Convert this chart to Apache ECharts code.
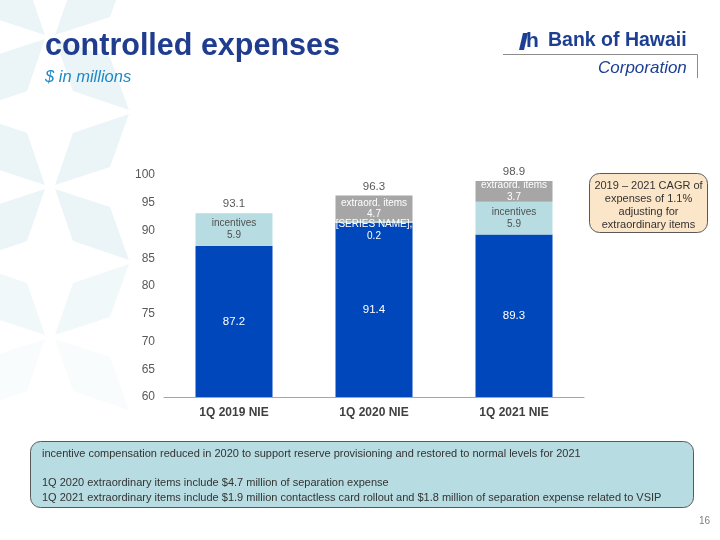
<!DOCTYPE html>
<html><head><meta charset="utf-8">
<script src="https://cdn.jsdelivr.net/npm/echarts@6/dist/echarts.min.js"></script>
<style>html,body{margin:0;padding:0;background:#fff}#c{width:720px;height:540px}</style>
</head><body><div id="c"></div>
<script>
const categories = ['1Q 2019 NIE', '1Q 2020 NIE', '1Q 2021 NIE'];
const baseValues = [87.2, 91.4, 89.3];
const incentiveValues = [5.9, 0.2, 5.9];
const extraordValues = [null, 4.7, 3.7];
const totalValues = [93.1, 96.3, 98.9];
const yTicks = { min: 60, max: 100, interval: 5 };
const notes = [
  'incentive compensation reduced in 2020 to support reserve provisioning and restored to normal levels for 2021',
  '',
  '1Q 2020 extraordinary items include $4.7 million of separation expense',
  '1Q 2021 extraordinary items include $1.9 million contactless card rollout and $1.8 million of separation expense related to VSIP'
];
const calloutText = '2019 – 2021 CAGR of\nexpenses of 1.1%\nadjusting for\nextraordinary items';

const FONT = '"Liberation Sans", Arial, sans-serif';
const chart = echarts.init(document.getElementById('c'), null, { renderer: 'canvas' });

// faint background star pattern (decoration)
const deco = [];
[37, 187, 337].forEach((cy, k) => {
  const cx = 50;
  [[1, -1], [1, 1], [-1, -1], [-1, 1]].forEach(([sx, sy]) => {
    const pts = [[5, 2], [23, 54], [79, 73], [60, 20]].map(([dx, dy]) => [cx + sx * dx, cy + sy * dy]);
    let op = 1;
    if (k === 2) op = sy > 0 ? 0.35 : 0.7;
    deco.push({ type: 'polygon', silent: true, z: -10, shape: { points: pts },
      style: { fill: '#EBF5F7', opacity: op } });
  });
});

const incentiveData = incentiveValues.map((v, i) => i === 1
  ? { value: v, label: { color: '#ffffff', formatter: '[SERIES NAME],\n{c}', offset: [0, 8] } }
  : v);

chart.setOption({
  animation: false,
  textStyle: { fontFamily: FONT },
  grid: { left: 164, right: 136, top: 175, bottom: 143 },
  xAxis: {
    type: 'category', data: categories,
    axisLine: { lineStyle: { color: '#A6A6A6', width: 1 } },
    axisTick: { show: false },
    axisLabel: { color: '#404040', fontWeight: 'bold', fontSize: 12, margin: 10, fontFamily: FONT }
  },
  yAxis: {
    type: 'value', min: yTicks.min, max: yTicks.max, interval: yTicks.interval,
    axisLine: { show: false }, axisTick: { show: false }, splitLine: { show: false },
    axisLabel: { color: '#595959', fontSize: 12, margin: 9, fontFamily: FONT }
  },
  series: [
    { name: 'base', type: 'bar', stack: 'nie', barWidth: 77, data: baseValues,
      itemStyle: { color: '#0047BB' },
      label: { show: true, position: 'inside', color: '#ffffff', fontSize: 11.5, fontFamily: FONT } },
    { name: 'incentives', type: 'bar', stack: 'nie', barWidth: 77, data: incentiveData,
      itemStyle: { color: '#B7DDE3' },
      label: { show: true, position: 'inside', color: '#505050', fontSize: 10, lineHeight: 12,
        overflow: 'none', fontFamily: FONT, formatter: 'incentives\n{c}' } },
    { name: 'extraord. items', type: 'bar', stack: 'nie', barWidth: 77, data: extraordValues,
      itemStyle: { color: '#A6A6A6' },
      label: { show: true, position: 'inside', color: '#ffffff', fontSize: 10, lineHeight: 11.5,
        overflow: 'none', fontFamily: FONT, formatter: 'extraord. items\n{c}' } },
    { name: 'total', type: 'bar', barWidth: 77, barGap: '-100%', data: totalValues, z: 1,
      itemStyle: { color: 'rgba(0,0,0,0)' },
      label: { show: true, position: 'top', distance: 3, color: '#595959', fontSize: 11.5, fontFamily: FONT } }
  ],
  graphic: deco.concat([
    { type: 'text', left: 45, top: 31, z: 10,
      style: { text: 'controlled expenses', fill: '#1F3C8F', font: 'bold 30.5px ' + FONT } },
    { type: 'text', left: 45, top: 69, z: 10,
      style: { text: '$ in millions', fill: '#1E88C8', font: 'italic 16.5px ' + FONT } },
    // logo
    { type: 'polygon', z: 10, shape: { points: [[523, 33], [528, 33], [524, 50], [519, 50]] },
      style: { fill: '#1C3F94' } },
    { type: 'text', left: 526, top: 31, z: 10,
      style: { text: 'h', fill: '#1C3F94', font: 'bold 21px ' + FONT } },
    { type: 'text', left: 548, top: 31, z: 10,
      style: { text: 'Bank of Hawaii', fill: '#1C3F94', font: 'bold 19.5px ' + FONT } },
    { type: 'line', z: 10, shape: { x1: 503, y1: 54.5, x2: 697.5, y2: 54.5 },
      style: { stroke: '#8C8C8C', lineWidth: 1 } },
    { type: 'line', z: 10, shape: { x1: 697.5, y1: 54.5, x2: 697.5, y2: 78 },
      style: { stroke: '#8C8C8C', lineWidth: 1 } },
    { type: 'text', left: 598, top: 60, z: 10,
      style: { text: 'Corporation', fill: '#1C3F94', font: 'italic 17px ' + FONT } },
    // callout
    { type: 'rect', z: 10, shape: { x: 589.5, y: 173.5, width: 118, height: 59, r: 10 },
      style: { fill: '#FCE6C9', stroke: '#595959', lineWidth: 1 } },
    { type: 'text', z: 11, x: 648.5, y: 205.5,
      style: { text: calloutText, fill: '#333333', font: '11px ' + FONT, align: 'center',
        verticalAlign: 'middle', lineHeight: 13.3 } },
    // notes box
    { type: 'rect', z: 10, shape: { x: 30.5, y: 441.5, width: 663, height: 66, r: 10 },
      style: { fill: '#B7DCE2', stroke: '#595959', lineWidth: 1 } },
    { type: 'text', z: 11, x: 42, y: 447,
      style: { text: notes.join('\n'), fill: '#333333', font: '11px ' + FONT, lineHeight: 14.5,
        verticalAlign: 'top' } },
    { type: 'text', z: 11, x: 710, y: 521,
      style: { text: '16', fill: '#7F7F7F', font: '10px ' + FONT, align: 'right', verticalAlign: 'middle' } }
  ])
});
</script></body></html>
